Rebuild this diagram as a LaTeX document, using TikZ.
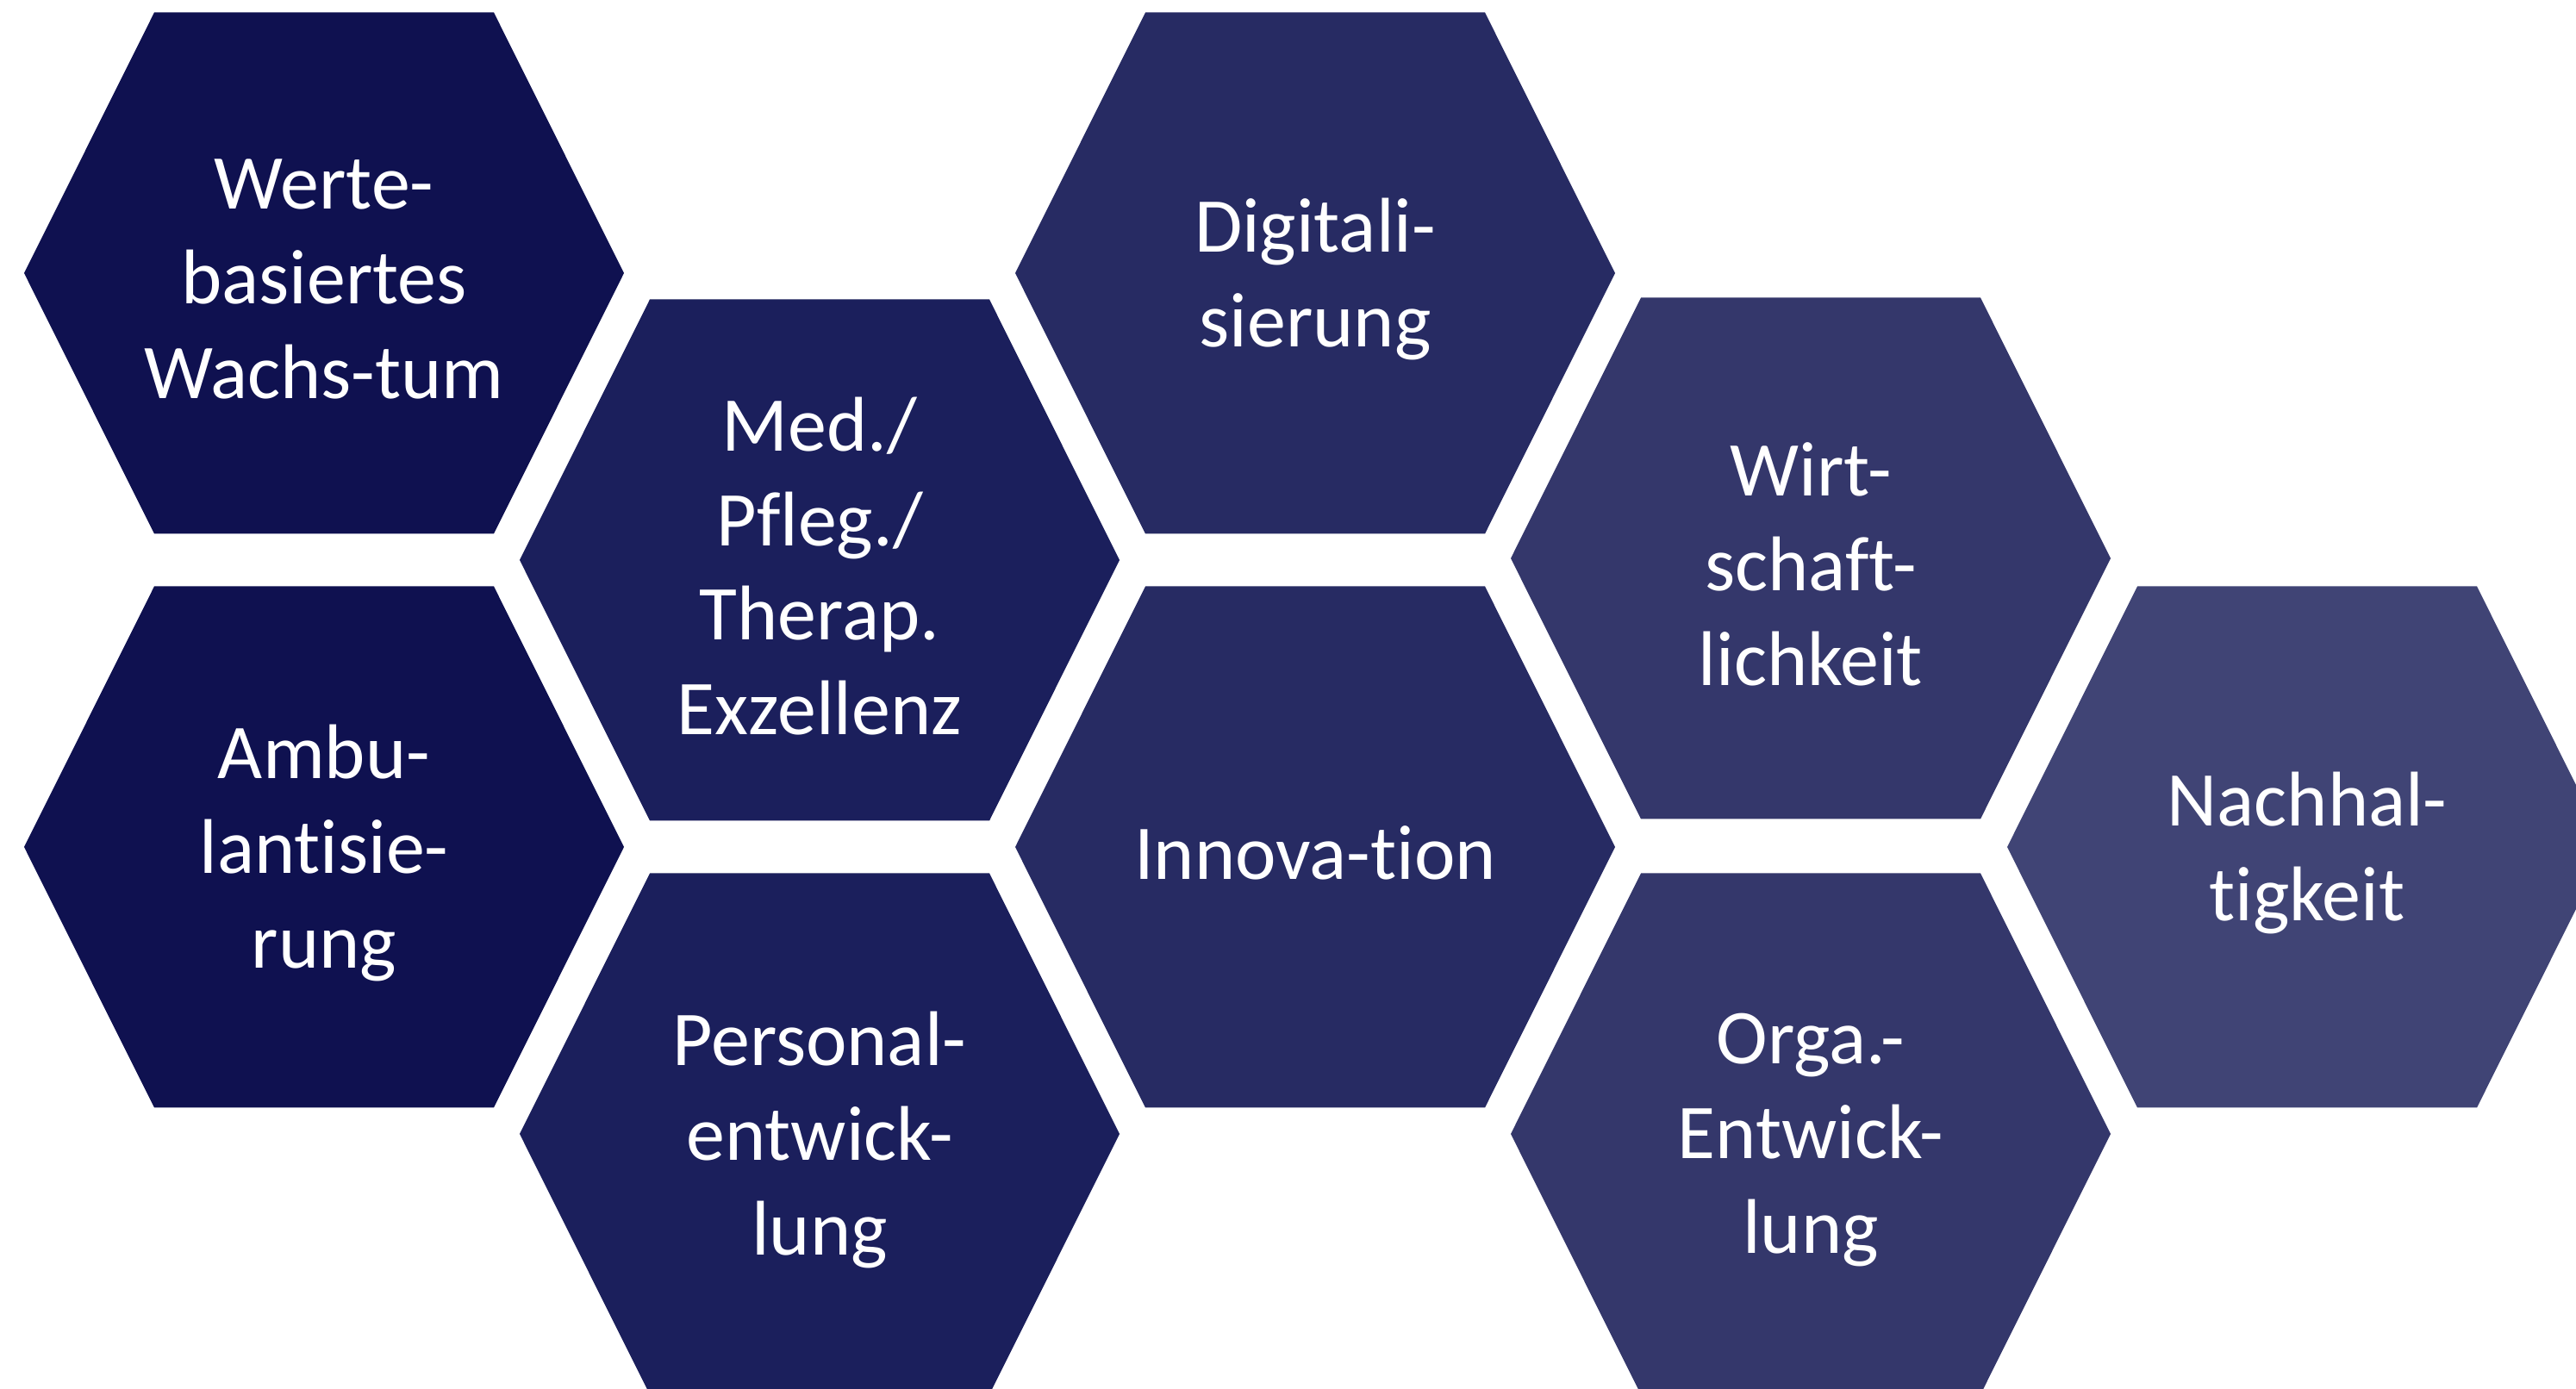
\documentclass[tikz,border=0pt]{standalone}
\usepackage{fontspec}
\setmainfont{Carlito}[Ligatures=NoCommon]
\usepackage{tikz}
\definecolor{N1}{RGB}{15, 17, 80}
\definecolor{N2}{RGB}{27, 31, 92}
\definecolor{N3}{RGB}{39, 43, 99}
\definecolor{N4}{RGB}{52, 55, 107}
\definecolor{N5}{RGB}{64, 68, 117}
\tikzset{wabentext/.style={text=white, align=center, inner sep=0pt, yshift=-0.07cm,
  font=\fontsize{25.6}{31.2}\selectfont}}
% Wabe: Mittelpunkt, Farbe, Name, Text
\newcommand{\wabe}[4]{%
  \fill[#2] (#1) ++(-3.48,0) -- ++(1.51,3.025) -- ++(3.94,0) -- ++(1.51,-3.025)
    -- ++(-1.51,-3.025) -- ++(-3.94,0) -- cycle;
  \node[wabentext] (#3) at (#1) {#4};
}

\begin{document}
\begin{tikzpicture}
	% Rahmen des Bildes
	\clip (0,0) rectangle (29.89,-16.12);
	\fill[white] (0,0) rectangle (29.89,-16.12);

	%Erste Spalte
	\wabe{3.76,-3.17}{N1}{werte}{Werte-\\basiertes\\Wachs-tum}
	\wabe{3.76,-9.83}{N1}{ambu}{Ambu-\\lantisie-\\rung}

	%Zweite Spalte
	\wabe{9.51,-6.50}{N2}{exzellenz}{Med./\\Pfleg./\\Therap.\\Exzellenz}
	\wabe{9.51,-13.16}{N2}{personal}{Personal-\\entwick-\\lung}

	%Dritte Spalte
	\wabe{15.26,-3.17}{N3}{digital}{Digitali-\\sierung}
	\wabe{15.26,-9.83}{N3}{innovation}{Innova-tion}

	%Vierte Spalte
	\wabe{21.01,-6.48}{N4}{wirtschaft}{Wirt-\\schaft-\\lichkeit}
	\wabe{21.01,-13.16}{N4}{orga}{Orga.-\\Entwick-\\lung}

	%Fuenfte Spalte (rechts abgeschnitten)
	\wabe{26.77,-9.83}{N5}{nachhalt}{Nachhal-\\tigkeit}
\end{tikzpicture}
\end{document}
